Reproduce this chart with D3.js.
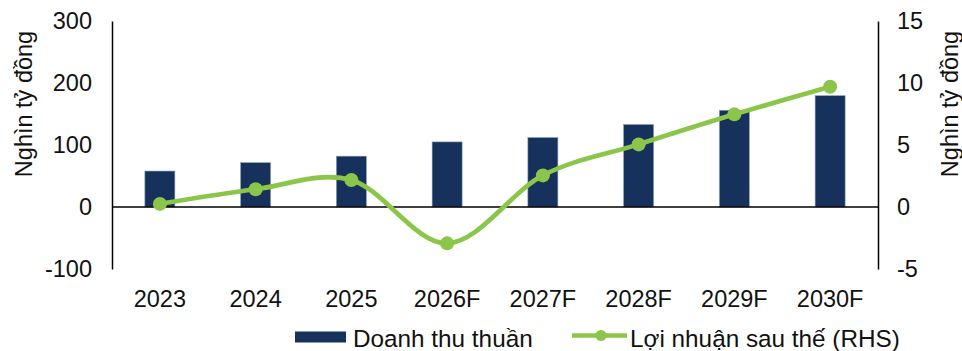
<!DOCTYPE html>
<html><head><meta charset="utf-8">
<script src="https://cdn.jsdelivr.net/npm/d3@7"></script>
<style>body{margin:0;background:#fff}svg{display:block}text{font-family:"Liberation Sans",Arial,sans-serif;fill:#111}</style>
</head><body>
<svg id="c" width="962" height="351"></svg>
<script>
const categories = ["2023","2024","2025","2026F","2027F","2028F","2029F","2030F"];
const revenue = [58, 71.5, 82, 105, 112, 133, 156, 179.5];
const profit = [0.25, 1.43, 2.18, -2.93, 2.55, 5.05, 7.47, 9.7];
const leftTicks = [-100, 0, 100, 200, 300];
const rightTicks = [-5, 0, 5, 10, 15];
const axisTitle = "Nghìn tỷ đồng";
const legendLabels = ["Doanh thu thuần", "Lợi nhuận sau thế (RHS)"];

const svg = d3.select("#c");
const L = 112, R = 878, T = 21, B = 269;
const x = d3.scaleBand().domain(categories).range([L, R]);
const yL = d3.scaleLinear().domain([-100, 300]).range([B, T]);
const yR = d3.scaleLinear().domain([-5, 15]).range([B, T]);
const navy = "#16325c", green = "#8bc64b";
const fs = 23.5, lfs = 24.3;
const fmt = d => String(d);

// bars
svg.selectAll("rect.bar").data(revenue).join("rect")
  .attr("x", (d,i) => x(categories[i]) + x.bandwidth()/2 - 15)
  .attr("width", 30)
  .attr("y", d => yL(d)).attr("height", d => yL(0) - yL(d))
  .attr("fill", navy).attr("stroke", "#8a9bb5").attr("stroke-width", 0.6);

// zero line
svg.append("line").attr("x1", L).attr("x2", R).attr("y1", yL(0)).attr("y2", yL(0))
  .attr("stroke", "#000").attr("stroke-width", 1.5);

// axes
const la = svg.append("g").attr("transform", `translate(${L},0)`)
  .call(d3.axisLeft(yL).tickValues(leftTicks).tickFormat(fmt).tickSize(0).tickPadding(20));
const ra = svg.append("g").attr("transform", `translate(${R},0)`)
  .call(d3.axisRight(yR).tickValues(rightTicks).tickFormat(fmt).tickSize(0).tickPadding(19));
[la, ra].forEach(g => {
  g.select(".domain").attr("stroke", "#000").attr("stroke-width", 1.5);
  g.selectAll("text").style("font-size", fs + "px").style("font-family", '"Liberation Sans",Arial,sans-serif').attr("fill", "#111");
});
const xa = svg.append("g").attr("transform", `translate(0,${B})`)
  .call(d3.axisBottom(x).tickSize(0).tickPadding(21));
xa.select(".domain").remove();
xa.selectAll("text").style("font-size", fs + "px").style("font-family", '"Liberation Sans",Arial,sans-serif').attr("fill", "#111");

// axis titles
svg.append("text").attr("transform", "translate(32,104) rotate(-90)")
  .attr("text-anchor", "middle").style("font-size", fs + "px").text(axisTitle);
svg.append("text").attr("transform", "translate(958,104) rotate(-90)")
  .attr("text-anchor", "middle").style("font-size", fs + "px").text(axisTitle);

// line
const pts = profit.map((d,i) => [x(categories[i]) + x.bandwidth()/2, yR(d)]);
svg.append("path").attr("d", d3.line().curve(d3.curveCatmullRom.alpha(0))(pts))
  .attr("fill", "none").attr("stroke", green).attr("stroke-width", 4.7);
svg.selectAll("circle.pt").data(pts).join("circle")
  .attr("cx", d => d[0]).attr("cy", d => d[1]).attr("r", 7).attr("fill", green);

// legend
svg.append("rect").attr("x", 295).attr("y", 331.5).attr("width", 51).attr("height", 11).attr("fill", navy);
svg.append("text").attr("x", 353).attr("y", 347).style("font-size", lfs + "px").text(legendLabels[0]);
svg.append("line").attr("x1", 572).attr("x2", 627).attr("y1", 335.5).attr("y2", 335.5).attr("stroke", green).attr("stroke-width", 4.7);
svg.append("circle").attr("cx", 601).attr("cy", 335.5).attr("r", 5.5).attr("fill", green);
svg.append("text").attr("x", 630).attr("y", 347).style("font-size", lfs + "px").text(legendLabels[1]);
</script>
</body></html>
